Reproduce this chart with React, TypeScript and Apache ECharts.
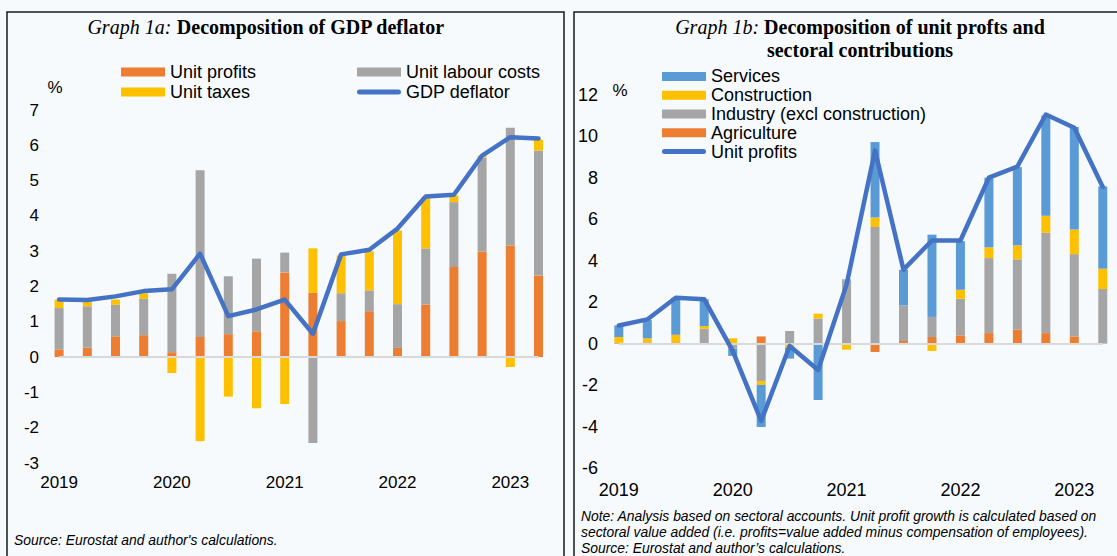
import React, { useEffect, useRef } from "react";
import * as echarts from "echarts";

// ---------- data ----------
const quarters = [
  "2019Q1", "2019Q2", "2019Q3", "2019Q4",
  "2020Q1", "2020Q2", "2020Q3", "2020Q4",
  "2021Q1", "2021Q2", "2021Q3", "2021Q4",
  "2022Q1", "2022Q2", "2022Q3", "2022Q4",
  "2023Q1", "2023Q2",
];

// Graph 1a
const unitProfitsA = [0.22, 0.27, 0.59, 0.62, 0.14, 0.57, 0.65, 0.73, 2.4, 1.82, 1.02, 1.3, 0.26, 1.49, 2.55, 2.99, 3.16, 2.31];
const unitLabourCosts = [1.17, 1.17, 0.89, 1.03, 2.22, 4.72, 1.64, 2.06, 0.56, -2.43, 0.79, 0.59, 1.24, 1.59, 1.84, 2.66, 3.34, 3.54];
const unitTaxes = [0.24, 0.16, 0.15, 0.16, -0.45, -2.38, -1.12, -1.45, -1.33, 1.26, 1.07, 1.11, 2.09, 1.45, 0.19, 0.06, -0.28, 0.31];
const gdpDeflator = [1.63, 1.62, 1.72, 1.87, 1.92, 2.93, 1.16, 1.35, 1.63, 0.66, 2.91, 3.04, 3.64, 4.55, 4.6, 5.71, 6.23, 6.19];

// Graph 1b
const agriculture = [0.04, 0.06, 0, -0.05, 0, 0.35, 0, 0, 0, -0.4, 0.13, 0.32, 0.4, 0.51, 0.68, 0.51, 0.35, 0];
const industry = [0, 0, 0, 0.72, -0.24, -1.8, 0.61, 1.21, 3.05, 5.63, 1.72, 0.97, 1.77, 3.62, 3.39, 4.84, 3.97, 2.64];
const construction = [0.28, 0.2, 0.43, 0.13, 0.26, -0.19, -0.19, 0.24, -0.29, 0.46, 0, -0.35, 0.43, 0.52, 0.67, 0.82, 1.19, 0.98];
const services = [0.56, 0.88, 1.79, 1.29, -0.35, -2.03, -0.53, -2.72, 0.05, 3.64, 1.72, 3.97, 2.35, 3.36, 3.78, 4.84, 4.94, 3.97];
const unitProfitsB = [0.88, 1.17, 2.22, 2.14, -0.35, -3.73, -0.11, -1.27, 2.85, 9.32, 3.57, 4.98, 4.98, 8.01, 8.55, 11.06, 10.42, 7.56];

// ---------- style ----------
const BG = "#F6FAFD";
const ORANGE = "#ED7D31";
const GRAY = "#A5A5A5";
const YELLOW = "#FFC000";
const LIGHTBLUE = "#5B9BD5";
const BLUE = "#4472C4";
const SANS = '"Liberation Sans", Arial, sans-serif';
const SERIF = '"Liberation Serif", "Times New Roman", serif';
const LINE_ICON = "path://M2.5,0L41.5,0A2.5,2.5,0,0,1,41.5,5L2.5,5A2.5,2.5,0,0,1,2.5,0Z";

const yearLabel = (v: string) => v.slice(0, 4);

const zeroLine = () => ({
  silent: true,
  symbol: "none",
  label: { show: false },
  lineStyle: { color: "#D9D9D9", width: 2, type: "solid" },
  data: [[{ coord: [quarters[0], 0] }, { coord: [quarters[quarters.length - 1], 0] }]],
});

const bar = (name: string, data: number[], color: string, idx: number, stack: string, withZero = false) => ({
  name,
  type: "bar",
  stack,
  data,
  barWidth: 9,
  xAxisIndex: idx,
  yAxisIndex: idx,
  itemStyle: { color },
  ...(withZero ? { markLine: zeroLine() } : {}),
});

const line = (name: string, data: number[], idx: number) => ({
  name,
  type: "line",
  data,
  xAxisIndex: idx,
  yAxisIndex: idx,
  symbol: "none",
  color: BLUE,
  itemStyle: { color: BLUE },
  lineStyle: { color: BLUE, width: 4.5, cap: "round", join: "round" },
  z: 5,
});

const legendText = { fontSize: 18, fontFamily: SANS, color: "#000" };

const option: any = {
  animation: false,
  backgroundColor: BG,
  textStyle: { fontFamily: SANS },
  grid: [
    { left: 45, top: 110, width: 507.6, height: 353 },
    { left: 604.6, top: 95, width: 516.6, height: 373 },
  ],
  xAxis: [0, 1].map((i) => ({
    type: "category",
    gridIndex: i,
    data: quarters,
    boundaryGap: true,
    axisLine: { show: false, onZero: false },
    axisTick: { show: false },
    axisLabel: {
      interval: 3,
      formatter: yearLabel,
      color: "#000",
      fontSize: i === 0 ? 17 : 18,
      fontFamily: SANS,
      margin: i === 0 ? 11 : 13,
    },
    splitLine: { show: false },
  })),
  yAxis: [
    {
      type: "value",
      gridIndex: 0,
      min: -3,
      max: 7,
      interval: 1,
      axisLine: { show: false },
      axisTick: { show: false },
      splitLine: { show: false },
      axisLabel: { color: "#000", fontSize: 17, fontFamily: SANS, margin: 6 },
    },
    {
      type: "value",
      gridIndex: 1,
      min: -6,
      max: 12,
      interval: 2,
      axisLine: { show: false },
      axisTick: { show: false },
      splitLine: { show: false },
      axisLabel: { color: "#000", fontSize: 18, fontFamily: SANS, margin: 6.5 },
    },
  ],
  legend: [
    {
      orient: "vertical",
      left: 121,
      top: 62,
      padding: 0,
      itemWidth: 44,
      itemHeight: 9,
      itemGap: 0,
      textStyle: { ...legendText, lineHeight: 20 },
      data: [
        { name: "Unit profits", icon: "rect" },
        { name: "Unit taxes", icon: "rect" },
      ],
    },
    {
      orient: "vertical",
      left: 357,
      top: 62,
      padding: 0,
      itemWidth: 44,
      itemHeight: 9,
      itemGap: 0,
      textStyle: { ...legendText, lineHeight: 20 },
      data: [
        { name: "Unit labour costs", icon: "rect" },
        { name: "GDP deflator", icon: LINE_ICON, itemStyle: { color: BLUE, borderWidth: 0 } },
      ],
    },
    {
      orient: "vertical",
      left: 662,
      top: 67,
      padding: 0,
      itemWidth: 44,
      itemHeight: 9,
      itemGap: 0,
      textStyle: { ...legendText, lineHeight: 18.8 },
      data: [
        { name: "Services", icon: "rect" },
        { name: "Construction", icon: "rect" },
        { name: "Industry (excl construction)", icon: "rect" },
        { name: "Agriculture", icon: "rect" },
        { name: "Unit profits (sectoral)", icon: LINE_ICON, itemStyle: { color: BLUE, borderWidth: 0 } },
      ],
      formatter: (n: string) => (n === "Unit profits (sectoral)" ? "Unit profits" : n),
    },
  ],
  series: [
    bar("Unit profits", unitProfitsA, ORANGE, 0, "a", true),
    bar("Unit labour costs", unitLabourCosts, GRAY, 0, "a"),
    bar("Unit taxes", unitTaxes, YELLOW, 0, "a"),
    line("GDP deflator", gdpDeflator, 0),
    bar("Agriculture", agriculture, ORANGE, 1, "b", true),
    bar("Industry (excl construction)", industry, GRAY, 1, "b"),
    bar("Construction", construction, YELLOW, 1, "b"),
    bar("Services", services, LIGHTBLUE, 1, "b"),
    line("Unit profits (sectoral)", unitProfitsB, 1),
  ],
  graphic: [
    {
      type: "rect",
      silent: true,
      shape: { x: 7, y: 12, width: 557, height: 600 },
      style: { fill: "none", stroke: "#1A1A1A", lineWidth: 1.5 },
      z: 100,
    },
    {
      type: "rect",
      silent: true,
      shape: { x: 574, y: 12, width: 600, height: 600 },
      style: { fill: "none", stroke: "#1A1A1A", lineWidth: 1.5 },
      z: 100,
    },
    {
      type: "text",
      x: 266,
      y: 27,
      style: {
        text: "{i|Graph 1a:} {b|Decomposition of GDP deflator}",
        align: "center",
        verticalAlign: "middle",
        fontSize: 20,
        fontFamily: SERIF,
        fill: "#000",
        rich: {
          i: { fontStyle: "italic", fontSize: 20, fontFamily: SERIF, fill: "#000" },
          b: { fontWeight: "bold", fontSize: 20, fontFamily: SERIF, fill: "#000" },
        },
      },
    },
    {
      type: "text",
      x: 860,
      y: 15,
      style: {
        text: "{i|Graph 1b:} {b|Decomposition of unit profts and}\n{b|sectoral contributions}",
        align: "center",
        verticalAlign: "top",
        fontSize: 20,
        lineHeight: 23,
        fontFamily: SERIF,
        fill: "#000",
        rich: {
          i: { fontStyle: "italic", fontSize: 20, lineHeight: 23, fontFamily: SERIF, fill: "#000" },
          b: { fontWeight: "bold", fontSize: 20, lineHeight: 23, fontFamily: SERIF, fill: "#000" },
        },
      },
    },
    {
      type: "text",
      x: 55,
      y: 87,
      style: { text: "%", align: "center", verticalAlign: "middle", fontSize: 17, fontFamily: SANS, fill: "#000" },
    },
    {
      type: "text",
      x: 620,
      y: 90,
      style: { text: "%", align: "center", verticalAlign: "middle", fontSize: 17, fontFamily: SANS, fill: "#000" },
    },
    {
      type: "text",
      x: 14,
      y: 540,
      style: {
        text: "Source: Eurostat and author's calculations.",
        verticalAlign: "middle",
        fontSize: 13.9,
        fontStyle: "italic",
        fontFamily: SANS,
        fill: "#000",
      },
    },
    {
      type: "text",
      x: 581,
      y: 508,
      style: {
        text:
          "Note: Analysis based on sectoral accounts. Unit profit growth is calculated based on\n" +
          "sectoral value added (i.e. profits=value added minus compensation of employees).\n" +
          "Source: Eurostat and author\u2019s calculations.",
        verticalAlign: "top",
        lineHeight: 16,
        fontSize: 13.9,
        fontStyle: "italic",
        fontFamily: SANS,
        fill: "#000",
      },
    },
  ],
};

export default function App() {
  const ref = useRef<HTMLDivElement>(null);
  useEffect(() => {
    document.body.style.margin = "0";
    document.body.style.background = BG;
    const chart = echarts.init(ref.current as HTMLDivElement, null, { renderer: "svg" });
    chart.setOption(option);
    return () => chart.dispose();
  }, []);
  return <div ref={ref} style={{ width: 1117, height: 556, background: BG }} />;
}
